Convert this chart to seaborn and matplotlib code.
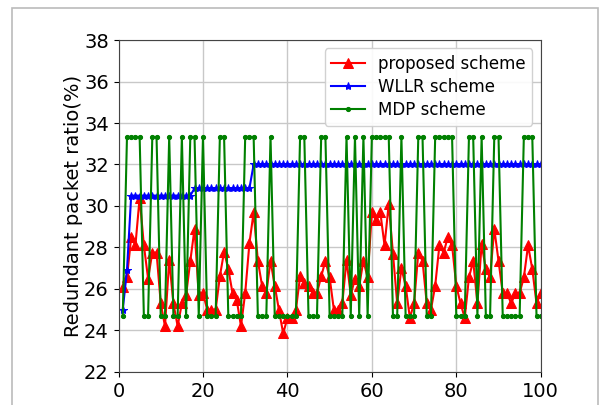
import matplotlib
matplotlib.use("Agg")
import matplotlib.pyplot as plt
import seaborn as sns
import numpy as np
import pandas as pd
from matplotlib.patches import Rectangle

x_vals = list(range(1, 101))

proposed = [26.1, 26.55, 28.5, 28.1, 30.4, 28.1, 26.5, 27.75, 27.75, 25.3,
            24.2, 27.4, 25.3, 24.2, 25.3, 25.7, 27.35, 28.9, 25.7, 25.8,
            25.0, 25.0, 25.0, 26.6, 27.8, 26.95, 25.8, 25.45, 24.2, 25.8,
            28.2, 29.7, 27.35, 26.15, 25.8, 27.35, 26.15, 24.97, 23.85, 24.6,
            24.6, 24.97, 26.6, 26.3, 26.15, 25.8, 25.8, 26.6, 27.35, 26.55,
            25.0, 25.0, 25.3, 27.4, 25.7, 26.5, 26.15, 27.35, 26.55, 29.7,
            29.3, 29.7, 28.1, 30.1, 27.7, 25.3, 27.0, 26.15, 24.6, 25.3,
            27.75, 27.35, 25.3, 25.0, 26.15, 28.1, 27.75, 28.5, 28.1, 26.15,
            25.3, 24.6, 26.55, 27.35, 25.3, 28.15, 26.95, 26.55, 28.9, 27.35,
            25.8, 25.8, 25.3, 25.8, 25.8, 26.55, 28.1, 26.95, 25.3, 25.8]

wllr = ([25.0, 26.9] + [30.5] * 15 + [30.85] * 14 + [32.0] * 69)

H, L = 33.33, 24.69
mdp_pattern = "LHHHHLLHHLLHLLHLHHLHLLLHHLLLLHHHLLLHLLLLLLHHLLLHHLLLLHLHLHLHHHHHLLHLLLHHLLHHHHHLLLHHLHLLHHLLLLLHHHLL"
mdp = [H if c == "H" else L for c in mdp_pattern]

df = pd.DataFrame({"x": x_vals, "proposed": proposed, "wllr": wllr, "mdp": mdp})

fig = plt.figure(figsize=(6.11, 4.05), dpi=100)
ax = fig.add_axes([0.194, 0.082, 0.691, 0.819])

sns.lineplot(data=df, x="x", y="proposed", ax=ax, color="red", marker="^",
             markersize=7, markeredgecolor="red", linewidth=1.5, label="proposed scheme")
sns.lineplot(data=df, x="x", y="wllr", ax=ax, color="blue", marker="*",
             markersize=6, markeredgecolor="blue", linewidth=1.5, label="WLLR scheme")
sns.lineplot(data=df, x="x", y="mdp", ax=ax, color="green", marker=".",
             markersize=6, markeredgecolor="green", linewidth=1.5, label="MDP scheme")

ax.set_xlim(0, 100)
ax.set_ylim(22, 38)
ax.set_xticks([0, 20, 40, 60, 80, 100])
ax.set_yticks([22, 24, 26, 28, 30, 32, 34, 36, 38])
ax.tick_params(labelsize=14)
ax.set_xlabel("")
ax.set_ylabel("Redundant packet ratio(%)", fontsize=14, labelpad=1)
ax.grid(True, color="#c8c8c8", linewidth=1)
ax.set_axisbelow(True)
for s in ax.spines.values():
    s.set_color("#444444")

leg = ax.legend(loc="upper right", fontsize=12, framealpha=0.9,
                labelspacing=0.3, handlelength=2.0)

fig.patches.append(Rectangle((12 / 611, -0.1), (598 - 12) / 611, 1.1 - 8 / 405,
                             transform=fig.transFigure, fill=False,
                             edgecolor="#bbbbbb", linewidth=1.2))

fig.savefig("out.png", dpi=100)
